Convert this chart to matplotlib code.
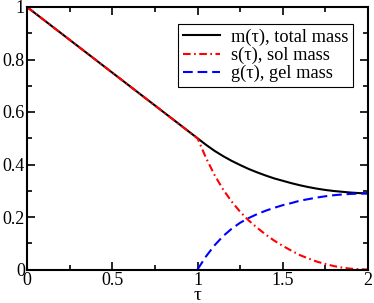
import matplotlib
matplotlib.use("Agg")
import matplotlib.pyplot as plt
from matplotlib.ticker import MultipleLocator, FuncFormatter

# Data
tau = [0.0, 1.0, 1.05, 1.1, 1.15, 1.2, 1.25, 1.3, 1.35, 1.4, 1.45, 1.5,
       1.55, 1.6, 1.65, 1.7, 1.75, 1.8, 1.85, 1.9, 1.95, 2.0]
m_total = [1.0, 0.5, 0.475, 0.452, 0.432, 0.414, 0.398, 0.383, 0.370, 0.358,
           0.347, 0.338, 0.329, 0.321, 0.314, 0.308, 0.303, 0.299, 0.296,
           0.293, 0.291, 0.290]
s_sol = [1.0, 0.5, 0.425, 0.360, 0.305, 0.259, 0.220, 0.187, 0.159, 0.133,
         0.110, 0.090, 0.072, 0.055, 0.042, 0.030, 0.021, 0.013, 0.007,
         0.003, 0.001, 0.0]
tau_gel = tau[1:]
g_gel = [0.0, 0.050, 0.092, 0.127, 0.155, 0.178, 0.196, 0.211, 0.224, 0.235,
         0.245, 0.253, 0.262, 0.268, 0.274, 0.279, 0.283, 0.286, 0.288,
         0.289, 0.290]

labels = ["m(\u03c4), total mass", "s(\u03c4), sol mass", "g(\u03c4), gel mass"]

plt.rcParams['font.family'] = ['Liberation Serif', 'DejaVu Serif']
plt.rcParams['lines.scale_dashes'] = False

fig = plt.figure(figsize=(3.74, 3.03), dpi=100)
ax = fig.add_axes([27/374, (303-269.5)/303, (368-27)/374, (269.5-7)/303])

ax.plot(tau, m_total, color='black', lw=1.5, label=labels[0])
ax.plot(tau, s_sol, color='#ff0000', lw=1.5, linestyle=(0, (5.5, 2.5, 1.2, 2.5)), label=labels[1])
ax.plot(tau_gel, g_gel, color='#0000ff', lw=1.5, linestyle=(0, (7, 3.5)), label=labels[2])

ax.set_xlim(0, 2)
ax.set_ylim(0, 1)
ax.xaxis.set_major_locator(MultipleLocator(0.5))
ax.xaxis.set_minor_locator(MultipleLocator(0.25))
ax.yaxis.set_major_locator(MultipleLocator(0.2))
ax.yaxis.set_minor_locator(MultipleLocator(0.1))
ax.xaxis.set_major_formatter(FuncFormatter(lambda v, p: '%g' % v))
ax.yaxis.set_major_formatter(FuncFormatter(lambda v, p: '%g' % v))
ax.tick_params(which='both', direction='in', top=True, right=True, width=1.2, labelsize=13, pad=1.5)
ax.tick_params(which='major', length=6)
ax.tick_params(which='minor', length=3.5)
for sp in ax.spines.values():
    sp.set_linewidth(1.5)

xl = ax.set_xlabel("\u03c4", fontsize=14, va='baseline')
ax.xaxis.set_label_coords(0.5, -0.118)

leg = ax.legend(loc='upper right', bbox_to_anchor=(0.955, 0.935), fontsize=13.2,
                frameon=True, fancybox=False, edgecolor='black', framealpha=1,
                handlelength=2.0, handletextpad=0.6, borderpad=0.25, labelspacing=0.05,
                borderaxespad=0)
leg.get_frame().set_linewidth(0.8)

fig.savefig("out.png", dpi=100)
